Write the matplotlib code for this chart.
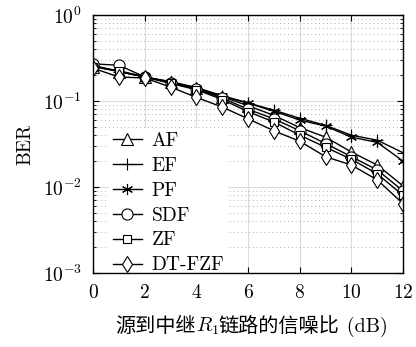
import numpy as np
import matplotlib
matplotlib.use('Agg')
from matplotlib import pyplot as plt
from matplotlib.ticker import LogLocator, NullFormatter
from matplotlib.offsetbox import TextArea, HPacker, AnchoredOffsetbox

plt.rcParams['font.family'] = ['cmr10', 'Noto Sans CJK SC']
plt.rcParams['mathtext.fontset'] = 'cm'
plt.rcParams['axes.formatter.use_mathtext'] = True

snr = np.arange(0, 13)
ber_af = [0.25, 0.22, 0.19, 0.165, 0.14, 0.112, 0.088, 0.068, 0.049, 0.038, 0.0255, 0.018, 0.0103]
ber_ef = [0.26, 0.22, 0.19, 0.168, 0.143, 0.115, 0.095, 0.078, 0.063, 0.052, 0.040, 0.035, 0.025]
ber_pf = [0.255, 0.22, 0.19, 0.166, 0.142, 0.114, 0.094, 0.076, 0.060, 0.051, 0.038, 0.033, 0.020]
ber_sdf = [0.27, 0.26, 0.19, 0.162, 0.138, 0.108, 0.080, 0.062, 0.045, 0.032, 0.0225, 0.0158, 0.0090]
ber_zf = [0.25, 0.225, 0.19, 0.160, 0.135, 0.104, 0.075, 0.057, 0.040, 0.029, 0.021, 0.0142, 0.0080]
ber_dt = [0.24, 0.19, 0.185, 0.145, 0.110, 0.085, 0.062, 0.045, 0.034, 0.0225, 0.018, 0.0121, 0.0064]

series = [('AF', ber_af, '^'), ('EF', ber_ef, '+'), ('PF', ber_pf, (6, 2, 0)),
          ('SDF', ber_sdf, 'o'), ('ZF', ber_zf, 's'), ('DT-FZF', ber_dt, 'd')]

fig = plt.figure(figsize=(4.16, 3.47), dpi=100)
ax = fig.add_axes([0.224, 0.213, 0.745, 0.744])

for name, vals, mk in series:
    ms = 8
    if mk == 's':
        ms = 6
    ax.semilogy(snr, vals, color='black', lw=1, marker=mk, ms=ms, mfc='white',
                mec='black', mew=0.8, label=name)

ax.set_xlim(0, 12)
ax.set_ylim(1e-3, 1)
ax.set_xticks([0, 2, 4, 6, 8, 10, 12])
ax.yaxis.set_major_locator(LogLocator(base=10, numticks=10))
ax.yaxis.set_minor_locator(LogLocator(base=10, subs=np.arange(2, 10), numticks=10))
ax.yaxis.set_minor_formatter(NullFormatter())

ax.grid(True, which='major', color='#dcdcdc', lw=0.8, ls='-')
ax.grid(True, which='minor', axis='y', color='#b0b0b0', lw=0.7, ls=(0, (1, 3)))
ax.set_axisbelow(True)

ax.tick_params(which='both', direction='in', top=True, right=True, labelsize=14)
ax.tick_params(which='major', length=4, pad=8)
ax.tick_params(which='minor', length=2)
for s in ax.spines.values():
    s.set_linewidth(1.0)

ax.set_ylabel('BER', fontsize=14, labelpad=6)

# x label: Chinese text mixed with a math R_1
xl_parts = [TextArea('源到中继', textprops=dict(fontsize=14.5, family='Noto Sans CJK SC')),
            TextArea('$R_1$', textprops=dict(fontsize=14.5)),
            TextArea('链路的信噪比', textprops=dict(fontsize=14.5, family='Noto Sans CJK SC')),
            TextArea(' (dB)', textprops=dict(fontsize=14.5, family='cmr10'))]
xl_box = HPacker(children=xl_parts, align='baseline', pad=0, sep=0)
xl_anchor = AnchoredOffsetbox(loc='upper center', child=xl_box, pad=0, frameon=False,
                              bbox_to_anchor=(0.51, -0.165), bbox_transform=ax.transAxes,
                              borderpad=0)
ax.add_artist(xl_anchor)

leg = ax.legend(loc='lower left', fontsize=14, frameon=True, fancybox=False,
                edgecolor='none', framealpha=1, labelspacing=0.36, handlelength=1.5,
                handletextpad=0.5, borderpad=0.2, borderaxespad=0,
                bbox_to_anchor=(0.05, -0.02))
leg.set_zorder(2.4)  # keep the axes frame drawn over the legend patch

fig.savefig('out.png', dpi=100)
